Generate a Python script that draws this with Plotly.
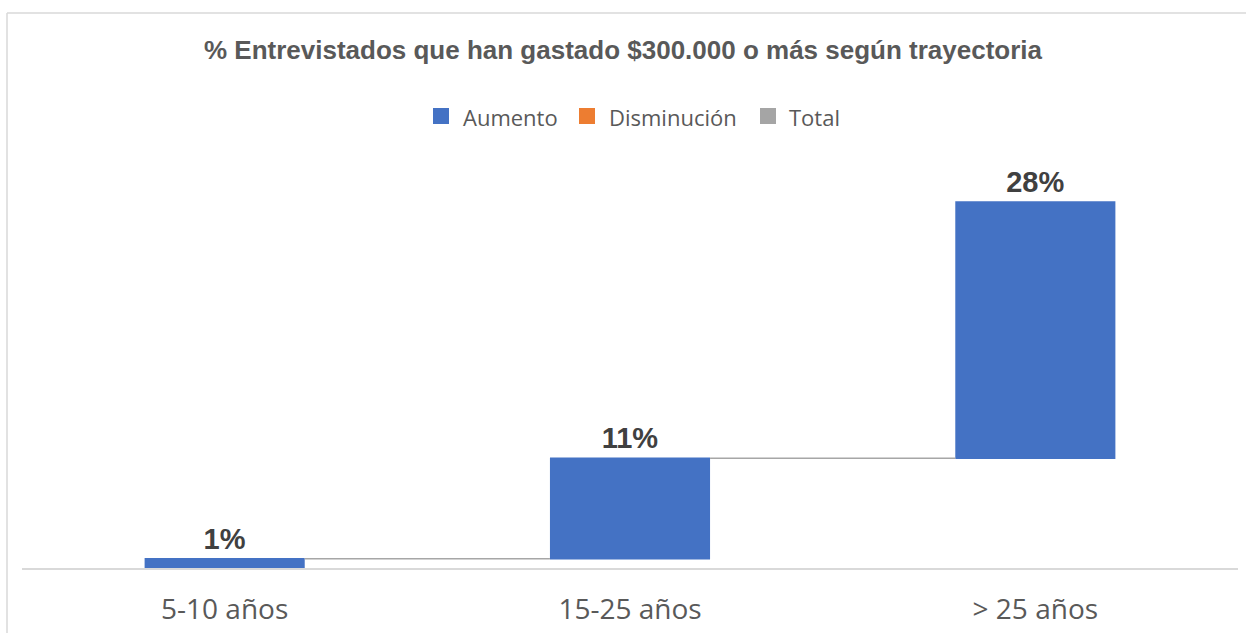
import plotly.graph_objects as go

# Waterfall data: share of respondents by career length (increments, %)
categories = ["5-10 años", "15-25 años", "> 25 años"]
increments = [1, 11, 28]
labels = ["1%", "11%", "28%"]

legend_names = ["Aumento", "Disminución", "Total"]
legend_colors = ["#4472C4", "#ED7D31", "#A5A5A5"]

W, H = 1246, 633
ML, MR, MT, MB = 22, 8, 170, 65
PW = W - ML - MR
PH = H - MT - MB


def px_x(px):
    return (px - ML) / PW


def px_y(py):
    return (H - MB - py) / PH


fig = go.Figure()

fig.add_trace(go.Waterfall(
    x=categories,
    y=increments,
    measure=["relative"] * len(increments),
    text=labels,
    textposition="outside",
    textfont=dict(family="Liberation Sans", size=29, color="#404040", weight="bold"),
    increasing=dict(marker=dict(color="#4472C4", line=dict(width=0))),
    decreasing=dict(marker=dict(color="#ED7D31", line=dict(width=0))),
    totals=dict(marker=dict(color="#A5A5A5", line=dict(width=0))),
    connector=dict(mode="between", line=dict(color="#A6A6A6", width=1.5)),
    showlegend=False,
    hoverinfo="x+text",
    cliponaxis=False,
))

# Legend row: colour swatch + name for each waterfall category
legend_swatch_x = [433, 579, 760]
legend_text_x = [461, 607, 787]
shapes = []
annotations = []
for name, color, sx, tx in zip(legend_names, legend_colors, legend_swatch_x, legend_text_x):
    shapes.append(dict(type="rect", xref="paper", yref="paper",
                       x0=px_x(sx), x1=px_x(sx + 16), y0=px_y(124), y1=px_y(108),
                       fillcolor=color, line=dict(width=0)))
    annotations.append(dict(text=name, xref="paper", yref="paper",
                            x=px_x(tx), y=px_y(117), xanchor="left", yanchor="middle",
                            showarrow=False,
                            font=dict(family="Open Sans", size=22, color="#595959")))

# Chart frame (left and top edges)
shapes += [
    dict(type="line", xref="paper", yref="paper",
         x0=px_x(7), x1=px_x(7), y0=px_y(H), y1=px_y(13),
         line=dict(color="#D9D9D9", width=1.5)),
    dict(type="line", xref="paper", yref="paper",
         x0=px_x(7), x1=px_x(W), y0=px_y(13), y1=px_y(13),
         line=dict(color="#D9D9D9", width=1.5)),
]

fig.update_layout(
    width=W,
    height=H,
    margin=dict(l=ML, r=MR, t=MT, b=MB, autoexpand=False),
    paper_bgcolor="white",
    plot_bgcolor="white",
    waterfallgap=0.605,
    showlegend=False,
    title=dict(
        text="% Entrevistados que han gastado $300.000 o más según trayectoria",
        x=0.5, xanchor="center",
        y=1 - 50 / H, yanchor="middle",
        font=dict(family="Liberation Sans", size=26, color="#595959", weight="bold"),
    ),
    xaxis=dict(
        showline=True, linecolor="#D9D9D9", linewidth=1.5,
        showgrid=False, zeroline=False, automargin=False,
        ticks="outside", ticklen=16, tickcolor="rgba(0,0,0,0)",
        tickfont=dict(family="Open Sans", size=28, color="#595959"),
    ),
    yaxis=dict(
        range=[0, PH / 9.15],
        visible=False, showgrid=False, zeroline=False,
    ),
    shapes=shapes,
    annotations=annotations,
)

fig.write_html("out.html")
